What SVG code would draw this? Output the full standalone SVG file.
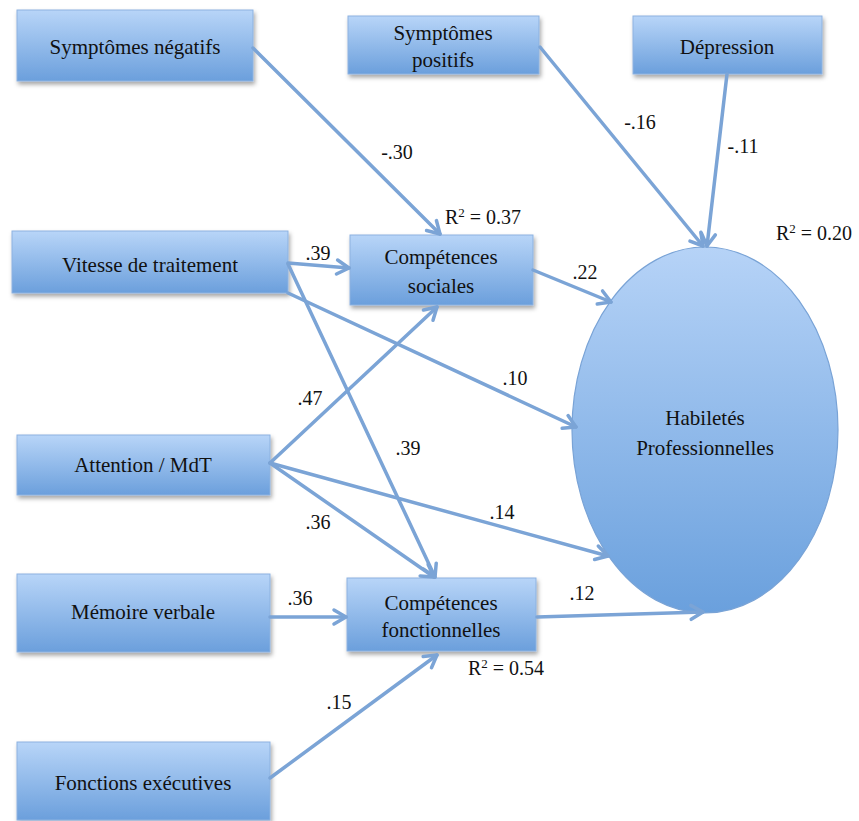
<svg xmlns="http://www.w3.org/2000/svg" width="859" height="821" viewBox="0 0 859 821">
  <defs>
    <linearGradient id="boxg" x1="0" y1="0" x2="0" y2="1">
      <stop offset="0" stop-color="#b8d5f8"/>
      <stop offset="1" stop-color="#6b9fdc"/>
    </linearGradient>
    <linearGradient id="ellg" x1="0" y1="0" x2="0" y2="1">
      <stop offset="0" stop-color="#b6d3f7"/>
      <stop offset="1" stop-color="#6aa0dd"/>
    </linearGradient>
    <filter id="sh" x="-10%" y="-10%" width="125%" height="135%">
      <feDropShadow dx="1.5" dy="3" stdDeviation="2" flood-color="#000" flood-opacity="0.35"/>
    </filter>
    <marker id="ah" viewBox="0 0 20 20" refX="17" refY="10" markerWidth="20" markerHeight="20" markerUnits="userSpaceOnUse" orient="auto">
      <path d="M5,3 L17,10 L5,17" fill="none" stroke="#7ba4d6" stroke-width="3.5" stroke-linecap="round" stroke-linejoin="round"/>
    </marker>
    <style>
      .box { fill: url(#boxg); stroke: #8db2e0; stroke-width: 1; filter: url(#sh); }
      .ell { fill: url(#ellg); stroke: #79a3d6; stroke-width: 1.2; }
      .t { font-family: "Times New Roman", "Liberation Serif", serif; font-size: 21px; fill: #111; text-anchor: middle; }
      .l { font-family: "Times New Roman", "Liberation Serif", serif; font-size: 20px; fill: #111; text-anchor: middle; }
      .c line { stroke: #7ba4d6; stroke-width: 3.5; marker-end: url(#ah); stroke-linecap: round; }
    </style>
  </defs>
  <rect width="859" height="821" fill="#fff"/>

  <g id="n-sympt-neg">
    <rect class="box" x="17" y="10" width="236" height="71"/>
    <text class="t" x="135" y="54">Symptômes négatifs</text>
  </g>
  <g id="n-sympt-pos">
    <rect class="box" x="348" y="16" width="191" height="58"/>
    <text class="t" x="443" y="40">Symptômes</text>
    <text class="t" x="443" y="67">positifs</text>
  </g>
  <g id="n-depression">
    <rect class="box" x="633" y="16" width="189" height="58"/>
    <text class="t" x="727" y="54">Dépression</text>
  </g>
  <g id="n-vitesse">
    <rect class="box" x="12" y="231" width="276" height="62"/>
    <text class="t" x="150" y="272">Vitesse de traitement</text>
  </g>
  <g id="n-comp-soc">
    <rect class="box" x="350" y="235" width="183" height="70"/>
    <text class="t" x="441" y="264">Compétences</text>
    <text class="t" x="441" y="293">sociales</text>
  </g>
  <g id="n-attention">
    <rect class="box" x="17" y="435" width="253" height="60"/>
    <text class="t" x="143" y="472">Attention / MdT</text>
  </g>
  <g id="n-memoire">
    <rect class="box" x="17" y="574" width="253" height="78"/>
    <text class="t" x="143" y="619">Mémoire verbale</text>
  </g>
  <g id="n-comp-fonc">
    <rect class="box" x="347" y="578" width="189" height="73"/>
    <text class="t" x="441" y="610">Compétences</text>
    <text class="t" x="441" y="637">fonctionnelles</text>
  </g>
  <g id="n-fonctions">
    <rect class="box" x="17" y="742" width="253" height="78"/>
    <text class="t" x="143" y="790">Fonctions exécutives</text>
  </g>
  <g id="n-habiletes">
    <ellipse class="ell" cx="705" cy="430" rx="133" ry="183"/>
    <text class="t" x="705" y="425">Habiletés</text>
    <text class="t" x="705" y="455">Professionnelles</text>
  </g>

  <g id="connectors" class="c">
    <line x1="253" y1="48" x2="440" y2="234"/>
    <line x1="540" y1="47" x2="703" y2="246"/>
    <line x1="727" y1="74" x2="707" y2="246"/>
    <line x1="288" y1="263" x2="349" y2="268"/>
    <line x1="288" y1="293" x2="576" y2="427"/>
    <line x1="288" y1="264" x2="435" y2="577"/>
    <line x1="270" y1="463" x2="437" y2="307"/>
    <line x1="270" y1="463" x2="434" y2="577"/>
    <line x1="270" y1="463" x2="608" y2="556"/>
    <line x1="270" y1="617" x2="346" y2="617"/>
    <line x1="270" y1="778" x2="437" y2="655"/>
    <line x1="533" y1="270" x2="611" y2="302"/>
    <line x1="537" y1="617" x2="703" y2="612"/>
  </g>

  <g id="labels">
    <text class="l" x="397" y="159">-.30</text>
    <text class="l" x="640" y="129">-.16</text>
    <text class="l" x="743" y="153">-.11</text>
    <text class="l" x="318" y="260">.39</text>
    <text class="l" x="515" y="385">.10</text>
    <text class="l" x="408" y="455">.39</text>
    <text class="l" x="310" y="405">.47</text>
    <text class="l" x="318" y="529">.36</text>
    <text class="l" x="502" y="519">.14</text>
    <text class="l" x="300" y="605">.36</text>
    <text class="l" x="339" y="709">.15</text>
    <text class="l" x="585" y="279">.22</text>
    <text class="l" x="582" y="600">.12</text>
    <text class="l" x="483" y="224">R<tspan dy="-7" font-size="13">2</tspan><tspan dy="7"> = 0.37</tspan></text>
    <text class="l" x="814" y="240">R<tspan dy="-7" font-size="13">2</tspan><tspan dy="7"> = 0.20</tspan></text>
    <text class="l" x="506" y="675">R<tspan dy="-7" font-size="13">2</tspan><tspan dy="7"> = 0.54</tspan></text>
  </g>
</svg>
